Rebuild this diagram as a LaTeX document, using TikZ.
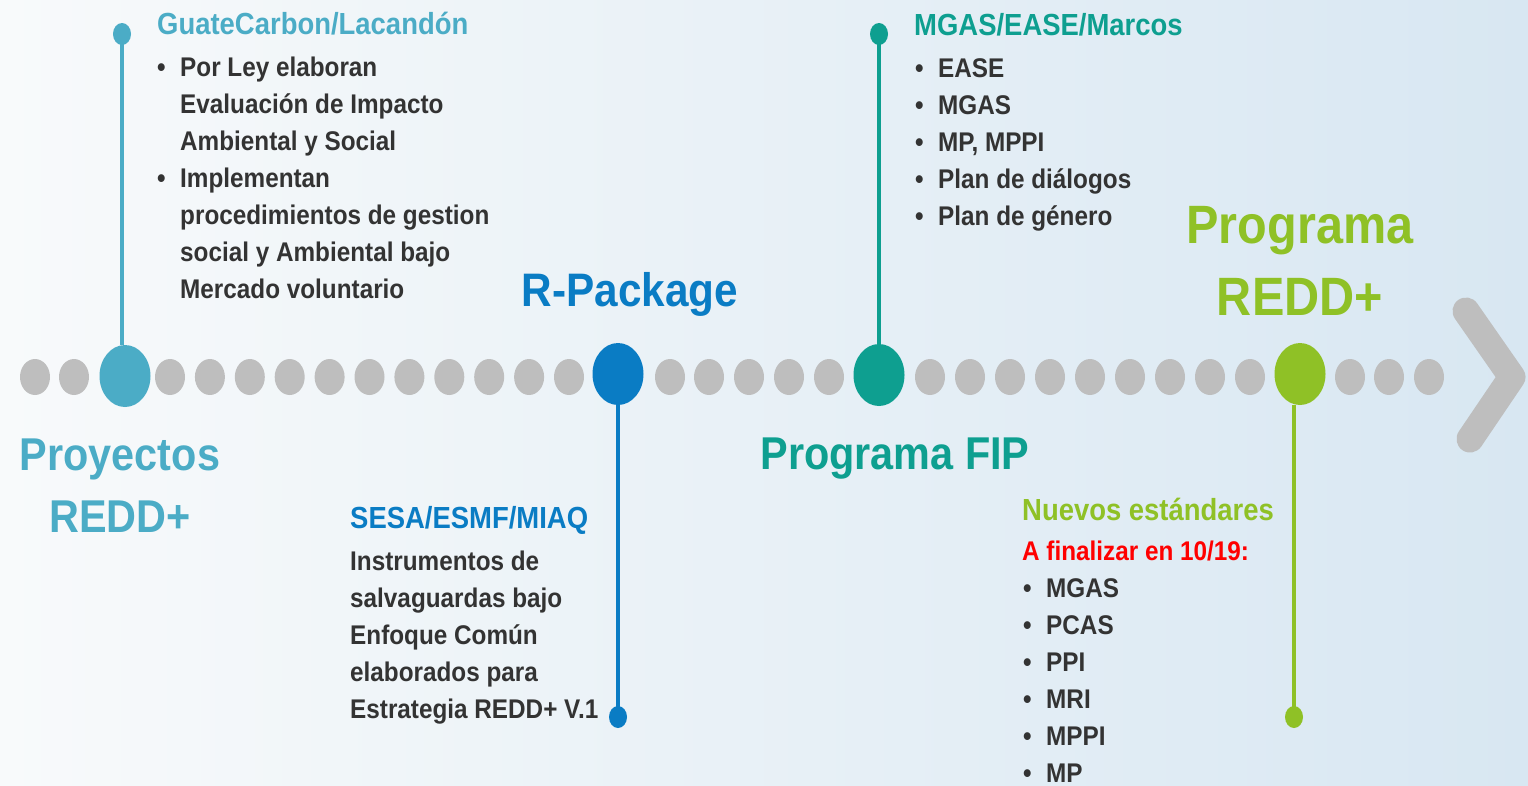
\documentclass[tikz,border=0pt]{standalone}
\usepackage{fontspec}
\usetikzlibrary{shapes.geometric}
\newfontfamily\nf[FakeStretch=0.9]{Liberation Sans}
\definecolor{cProy}{HTML}{4BACC6}
\definecolor{cRP}{HTML}{0A7CC4}
\definecolor{cFIP}{HTML}{0E9F90}
\definecolor{cGreen}{HTML}{8FC126}
\definecolor{cDot}{HTML}{BEBEBE}
\definecolor{cText}{HTML}{333333}
\definecolor{cRed}{HTML}{FF0000}
\definecolor{bgL}{HTML}{F8FAFB}
\definecolor{bgR}{HTML}{D8E7F2}
\begin{document}
\begin{tikzpicture}[x=1pt,y=-1pt,
  txt/.style={anchor=base west, inner sep=0pt, text=cText, font=\nf\bfseries\fontsize{27}{32}\selectfont},
  head/.style={anchor=base west, inner sep=0pt, font=\nf\bfseries\fontsize{30.5}{36}\selectfont},
  title/.style={anchor=base, inner sep=0pt, font=\nf\bfseries\fontsize{46}{50}\selectfont},
  bigtitle/.style={anchor=base, inner sep=0pt, font=\nf\bfseries\fontsize{54}{60}\selectfont, text=cGreen},
  gdot/.style={ellipse, fill=cDot, minimum width=30, minimum height=36, inner sep=0pt},
  bdot/.style={ellipse, minimum width=51, minimum height=62, inner sep=0pt},
  edot/.style={ellipse, minimum width=18, minimum height=22, inner sep=0pt},
  conn/.style={line width=3.5pt}]
\useasboundingbox (0,0) rectangle (1528,785);
\clip (0,0) rectangle (1528,785);
\shade[left color=bgL, right color=bgR] (0,0) rectangle (1528,785);

% chevron
\draw[cDot, line width=27pt, line cap=round, line join=round] (1466,311) -- (1512,377) -- (1470,439);

% gray dots
\foreach \x [count=\i] in {35,74,170,209.9,249.8,289.7,329.6,369.5,409.4,449.3,489.2,529.1,569,670,709,749,789,829,930,970,1010,1050,1090,1130,1170,1210,1250,1350,1389,1429}
  \node[gdot] (g\i) at (\x,377) {};

% big dots
\node[bdot, fill=cProy] (bd1) at (125,376) {};
\node[bdot, fill=cRP] (bd2) at (618,374) {};
\node[bdot, fill=cFIP] (bd3) at (879,375) {};
\node[bdot, fill=cGreen] (bd4) at (1300,374) {};

% end dots
\node[edot, fill=cProy] (ed1) at (122,34) {};
\node[edot, fill=cRP] (ed2) at (618,717) {};
\node[edot, fill=cFIP] (ed3) at (879,34) {};
\node[edot, fill=cGreen] (ed4) at (1294,717) {};

% connectors
\draw[conn, cProy] (ed1.center) -- (ed1.center |- bd1.north);
\draw[conn, cRP] (bd2.south) -- (ed2.center);
\draw[conn, cFIP] (ed3.center) -- (bd3.north);
\draw[conn, cGreen] (ed4.center |- bd4.south) -- (ed4.center);

% titles
\node[title, text=cProy] (proy1) at (120,470) {Proyectos};
\node[title, text=cProy] (proy2) at (120,532) {REDD+};
\node[title, text=cRP, font=\nf\bfseries\fontsize{47}{50}\selectfont] (rpack) at (630,306) {R-Package};
\node[title, text=cFIP] (fip) at (895,469) {Programa FIP};
\node[bigtitle] (prg1) at (1300,243) {Programa};
\node[bigtitle] (prg2) at (1300,315) {REDD+};

% GuateCarbon block
\node[head, text=cProy] (h1) at (157,34) {GuateCarbon/Lacandón};
\node[txt] (b1a) at (157,76) {\textbullet};
\node[txt] (b1b) at (157,187) {\textbullet};
\foreach \t/\y [count=\i] in {Por Ley elaboran/76, Evaluación de Impacto/113, Ambiental y Social/150, Implementan/187, procedimientos de gestion/224, social y Ambiental bajo/261, Mercado voluntario/298}
  \node[txt] (t1\i) at (180,\y) {\t};

% MGAS block
\node[head, text=cFIP] (h3) at (914,35) {MGAS/EASE/Marcos};
\foreach \t/\y [count=\i] in {EASE/77, MGAS/114, {MP, MPPI}/151, Plan de diálogos/188, Plan de género/225}{
  \node[txt] (b3\i) at (915,\y) {\textbullet};
  \node[txt] (t3\i) at (938,\y) {\t};
}

% SESA block
\node[head, text=cRP] (h2) at (350,528) {SESA/ESMF/MIAQ};
\foreach \t/\y [count=\i] in {Instrumentos de/570, salvaguardas bajo/607, Enfoque Común/644, elaborados para/681, Estrategia REDD+ V.1/718}
  \node[txt] (t2\i) at (350,\y) {\t};

% Nuevos block
\node[head, text=cGreen] (h4) at (1022,520) {Nuevos estándares};
\node[txt, text=cRed] (r4) at (1022,560) {A finalizar en 10/19:};
\foreach \t/\y [count=\i] in {MGAS/597, PCAS/634, PPI/671, MRI/708, MPPI/745, MP/782}{
  \node[txt] (b4\i) at (1023,\y) {\textbullet};
  \node[txt] (t4\i) at (1046,\y) {\t};
}
\end{tikzpicture}
\end{document}
